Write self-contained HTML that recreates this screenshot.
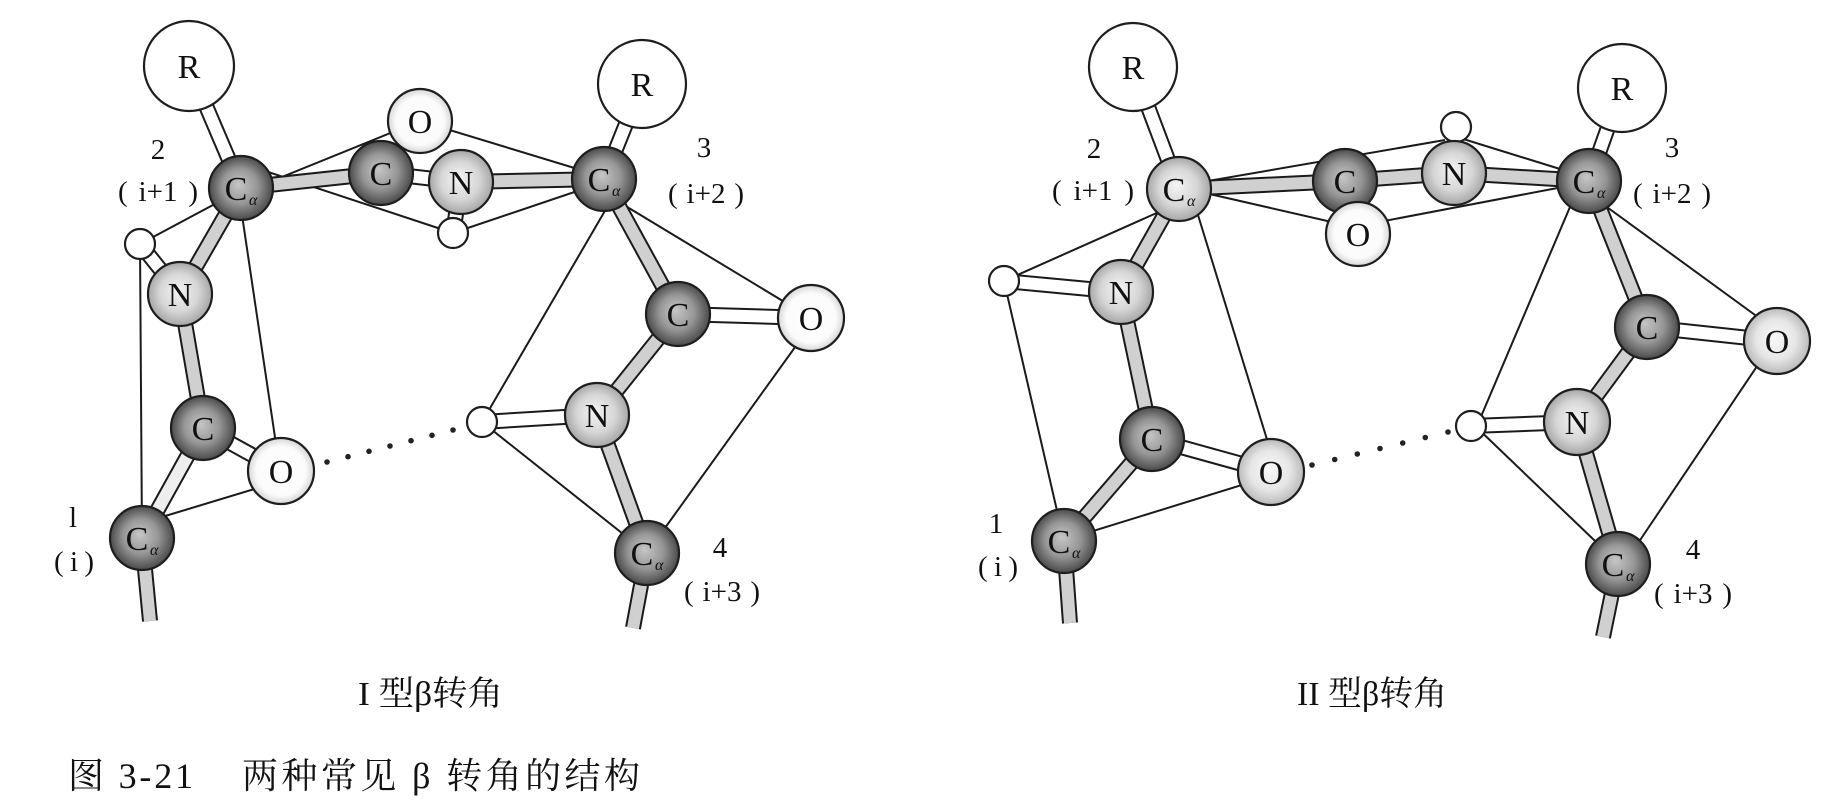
<!DOCTYPE html>
<html>
<head>
<meta charset="utf-8">
<style>
html,body{margin:0;padding:0;background:#fff;}
svg{display:block;}
.at{font-family:"Liberation Serif",serif;font-size:34px;fill:#111;text-anchor:middle;}
.sub{font-family:"Liberation Serif",serif;font-size:16px;fill:#111;font-style:italic;}
.lb{font-family:"Liberation Serif",serif;font-size:29px;fill:#111;text-anchor:middle;}
.ps{font-family:"Liberation Serif",serif;font-size:29px;fill:#111;text-anchor:start;}
.pe{font-family:"Liberation Serif",serif;font-size:29px;fill:#111;text-anchor:end;}
.cap{font-family:"Liberation Serif","Noto Serif CJK SC",serif;font-size:34px;fill:#111;}
.cap2{font-family:"Liberation Serif","Noto Serif CJK SC",serif;font-size:36px;fill:#111;}
</style>
</head>
<body>
<svg width="1845" height="801" viewBox="0 0 1845 801" xmlns="http://www.w3.org/2000/svg">
<defs>
<radialGradient id="gC" cx="50%" cy="50%" r="50%" fx="46%" fy="44%">
<stop offset="0" stop-color="#c6c6c6"/><stop offset="0.55" stop-color="#969696"/><stop offset="1" stop-color="#4a4a4a"/>
</radialGradient>
<radialGradient id="gN" cx="50%" cy="50%" r="50%" fx="46%" fy="44%">
<stop offset="0" stop-color="#f4f4f4"/><stop offset="0.6" stop-color="#d6d6d6"/><stop offset="1" stop-color="#a6a6a6"/>
</radialGradient>
<radialGradient id="gO" cx="50%" cy="50%" r="50%">
<stop offset="0" stop-color="#ffffff"/><stop offset="0.75" stop-color="#fbfbfb"/><stop offset="1" stop-color="#d6d6d6"/>
</radialGradient>
<radialGradient id="gO2" cx="50%" cy="50%" r="50%" fx="46%" fy="44%">
<stop offset="0" stop-color="#f8f8f8"/><stop offset="0.6" stop-color="#e6e6e6"/><stop offset="1" stop-color="#bababa"/>
</radialGradient>
</defs>
<rect width="1845" height="801" fill="#fff"/>

<!-- ================= PANEL 1 ================= -->
<g stroke="#1a1a1a" stroke-width="2" fill="none">
<line x1="245" y1="192" x2="420" y2="121"/>
<line x1="420" y1="121" x2="604" y2="177"/>
<line x1="250" y1="166" x2="453" y2="233"/>
<line x1="453" y1="233" x2="604" y2="182"/>
<line x1="241" y1="190" x2="140" y2="244"/>
<line x1="140" y1="244" x2="142" y2="538"/>
<line x1="238" y1="188" x2="280" y2="471"/>
<line x1="281" y1="481" x2="142" y2="523"/>
<line x1="620" y1="185" x2="482" y2="422"/>
<line x1="604" y1="193" x2="811" y2="318"/>
<line x1="816" y1="318" x2="647" y2="553"/>
<line x1="482" y1="422" x2="647" y2="553"/>
</g>
<g stroke="#1a1a1a" stroke-width="16" stroke-linecap="butt">
<line x1="189" y1="66" x2="241" y2="188"/>
<line x1="241" y1="188" x2="381" y2="173"/>
<line x1="381" y1="173" x2="461" y2="182"/>
<line x1="461" y1="182" x2="453" y2="233"/>
<line x1="461" y1="182" x2="604" y2="179"/>
<line x1="642" y1="84" x2="604" y2="179"/>
<line x1="241" y1="188" x2="180" y2="294"/>
<line x1="180" y1="294" x2="140" y2="244"/>
<line x1="180" y1="294" x2="203" y2="428"/>
<line x1="203" y1="428" x2="281" y2="471"/>
<line x1="203" y1="428" x2="142" y2="538"/>
<line x1="142" y1="538" x2="150" y2="621"/>
<line x1="604" y1="179" x2="678" y2="314"/>
<line x1="678" y1="314" x2="811" y2="318"/>
<line x1="678" y1="314" x2="597" y2="415"/>
<line x1="597" y1="415" x2="482" y2="422"/>
<line x1="597" y1="415" x2="647" y2="553"/>
<line x1="647" y1="553" x2="633" y2="628"/>
</g>
<g stroke-width="12" stroke-linecap="butt">
<line x1="189" y1="66" x2="241" y2="188" stroke="#fff"/>
<line x1="241" y1="188" x2="381" y2="173" stroke="#d0d0d0"/>
<line x1="381" y1="173" x2="461" y2="182" stroke="#fff"/>
<line x1="461" y1="182" x2="453" y2="233" stroke="#fff"/>
<line x1="461" y1="182" x2="604" y2="179" stroke="#d0d0d0"/>
<line x1="642" y1="84" x2="604" y2="179" stroke="#fff"/>
<line x1="241" y1="188" x2="180" y2="294" stroke="#d0d0d0"/>
<line x1="180" y1="294" x2="140" y2="244" stroke="#fff"/>
<line x1="180" y1="294" x2="203" y2="428" stroke="#d0d0d0"/>
<line x1="203" y1="428" x2="281" y2="471" stroke="#fff"/>
<line x1="203" y1="428" x2="142" y2="538" stroke="#eeeeee"/>
<line x1="142" y1="538" x2="150" y2="621" stroke="#d0d0d0"/>
<line x1="604" y1="179" x2="678" y2="314" stroke="#d0d0d0"/>
<line x1="678" y1="314" x2="811" y2="318" stroke="#fff"/>
<line x1="678" y1="314" x2="597" y2="415" stroke="#d0d0d0"/>
<line x1="597" y1="415" x2="482" y2="422" stroke="#fff"/>
<line x1="597" y1="415" x2="647" y2="553" stroke="#d0d0d0"/>
<line x1="647" y1="553" x2="633" y2="628" stroke="#d0d0d0"/>
</g>
<g fill="#222">
<circle cx="327" cy="462" r="2.8"/><circle cx="348" cy="456.7" r="2.8"/><circle cx="369" cy="451.3" r="2.8"/>
<circle cx="390" cy="446" r="2.8"/><circle cx="411" cy="440.7" r="2.8"/><circle cx="432" cy="435.3" r="2.8"/>
<circle cx="453" cy="430" r="2.8"/>
</g>
<g stroke="#1e1e1e" stroke-width="2.2">
<circle cx="189" cy="66" r="45" fill="#fff"/>
<circle cx="642" cy="84" r="44" fill="#fff"/>
<circle cx="420" cy="121" r="32" fill="url(#gO)"/>
<circle cx="381" cy="173" r="32" fill="url(#gC)"/>
<circle cx="461" cy="182" r="32" fill="url(#gN)"/>
<circle cx="453" cy="233" r="15" fill="#fff"/>
<circle cx="241" cy="188" r="32" fill="url(#gC)"/>
<circle cx="604" cy="179" r="32" fill="url(#gC)"/>
<circle cx="140" cy="244" r="15" fill="#fff"/>
<circle cx="180" cy="294" r="32" fill="url(#gN)"/>
<circle cx="203" cy="428" r="32" fill="url(#gC)"/>
<circle cx="281" cy="471" r="33" fill="url(#gO)"/>
<circle cx="142" cy="538" r="32" fill="url(#gC)"/>
<circle cx="678" cy="314" r="32" fill="url(#gC)"/>
<circle cx="811" cy="318" r="33" fill="url(#gO)"/>
<circle cx="597" cy="415" r="32" fill="url(#gN)"/>
<circle cx="482" cy="422" r="15" fill="#fff"/>
<circle cx="647" cy="553" r="32" fill="url(#gC)"/>
</g>
<g>
<text x="189" y="78" class="at">R</text>
<text x="642" y="96" class="at">R</text>
<text x="420" y="133" class="at">O</text>
<text x="381" y="185" class="at">C</text>
<text x="461" y="194" class="at">N</text>
<text x="236" y="200" class="at">C</text>
<text x="599" y="191" class="at">C</text>
<text x="180" y="306" class="at">N</text>
<text x="203" y="440" class="at">C</text>
<text x="281" y="483" class="at">O</text>
<text x="137" y="550" class="at">C</text>
<text x="678" y="326" class="at">C</text>
<text x="811" y="330" class="at">O</text>
<text x="597" y="427" class="at">N</text>
<text x="642" y="565" class="at">C</text>
</g>
<text x="249" y="205" class="sub">α</text>
<text x="612" y="196" class="sub">α</text>
<text x="150" y="555" class="sub">α</text>
<text x="655" y="570" class="sub">α</text>
<!-- labels panel 1 -->
<text x="158" y="159" class="lb">2</text>
<text x="118" y="201" class="ps">(</text><text x="158" y="201" class="lb">i+1</text><text x="198" y="201" class="pe">)</text>
<text x="704" y="157" class="lb">3</text>
<text x="668" y="203" class="ps">(</text><text x="706" y="203" class="lb">i+2</text><text x="744" y="203" class="pe">)</text>
<text x="73" y="527" class="lb">l</text>
<text x="54" y="571" class="ps">(</text><text x="74" y="571" class="lb">i</text><text x="94" y="571" class="pe">)</text>
<text x="720" y="557" class="lb">4</text>
<text x="684" y="601" class="ps">(</text><text x="722" y="601" class="lb">i+3</text><text x="760" y="601" class="pe">)</text>

<!-- ================= PANEL 2 ================= -->
<g stroke="#1a1a1a" stroke-width="2" fill="none">
<line x1="1179" y1="186" x2="1445" y2="140"/>
<line x1="1460" y1="138" x2="1589" y2="178"/>
<line x1="1179" y1="187" x2="1358" y2="228"/>
<line x1="1358" y1="226" x2="1589" y2="182"/>
<line x1="1179" y1="203" x2="1004" y2="281"/>
<line x1="1004" y1="281" x2="1064" y2="541"/>
<line x1="1190" y1="189" x2="1277" y2="472"/>
<line x1="1271" y1="476" x2="1064" y2="540"/>
<line x1="1581" y1="181" x2="1477" y2="426"/>
<line x1="1589" y1="194" x2="1777" y2="331"/>
<line x1="1774" y1="341" x2="1624" y2="564"/>
<line x1="1471" y1="422" x2="1618" y2="563"/>
</g>
<g stroke="#1a1a1a" stroke-width="16" stroke-linecap="butt">
<line x1="1133" y1="67" x2="1179" y2="189"/>
<line x1="1179" y1="189" x2="1345" y2="181"/>
<line x1="1345" y1="181" x2="1454" y2="173"/>
<line x1="1454" y1="173" x2="1589" y2="181"/>
<line x1="1622" y1="88" x2="1589" y2="181"/>
<line x1="1179" y1="189" x2="1121" y2="292"/>
<line x1="1121" y1="292" x2="1004" y2="281"/>
<line x1="1121" y1="292" x2="1152" y2="439"/>
<line x1="1152" y1="439" x2="1271" y2="472"/>
<line x1="1152" y1="439" x2="1064" y2="541"/>
<line x1="1064" y1="541" x2="1070" y2="623"/>
<line x1="1589" y1="181" x2="1647" y2="327"/>
<line x1="1647" y1="327" x2="1777" y2="341"/>
<line x1="1647" y1="327" x2="1577" y2="422"/>
<line x1="1577" y1="422" x2="1471" y2="426"/>
<line x1="1577" y1="422" x2="1618" y2="564"/>
<line x1="1618" y1="564" x2="1603" y2="637"/>
</g>
<g stroke-width="12" stroke-linecap="butt">
<line x1="1133" y1="67" x2="1179" y2="189" stroke="#fff"/>
<line x1="1179" y1="189" x2="1345" y2="181" stroke="#d0d0d0"/>
<line x1="1345" y1="181" x2="1454" y2="173" stroke="#d0d0d0"/>
<line x1="1454" y1="173" x2="1589" y2="181" stroke="#d0d0d0"/>
<line x1="1622" y1="88" x2="1589" y2="181" stroke="#fff"/>
<line x1="1179" y1="189" x2="1121" y2="292" stroke="#d0d0d0"/>
<line x1="1121" y1="292" x2="1004" y2="281" stroke="#fff"/>
<line x1="1121" y1="292" x2="1152" y2="439" stroke="#d0d0d0"/>
<line x1="1152" y1="439" x2="1271" y2="472" stroke="#fff"/>
<line x1="1152" y1="439" x2="1064" y2="541" stroke="#d0d0d0"/>
<line x1="1064" y1="541" x2="1070" y2="623" stroke="#d0d0d0"/>
<line x1="1589" y1="181" x2="1647" y2="327" stroke="#d0d0d0"/>
<line x1="1647" y1="327" x2="1777" y2="341" stroke="#fff"/>
<line x1="1647" y1="327" x2="1577" y2="422" stroke="#d0d0d0"/>
<line x1="1577" y1="422" x2="1471" y2="426" stroke="#fff"/>
<line x1="1577" y1="422" x2="1618" y2="564" stroke="#d0d0d0"/>
<line x1="1618" y1="564" x2="1603" y2="637" stroke="#d0d0d0"/>
</g>
<g fill="#222">
<circle cx="1312" cy="465" r="2.8"/><circle cx="1334.7" cy="459.5" r="2.8"/><circle cx="1357.3" cy="454" r="2.8"/>
<circle cx="1380" cy="448.5" r="2.8"/><circle cx="1402.7" cy="443" r="2.8"/><circle cx="1425.3" cy="437.5" r="2.8"/>
<circle cx="1448" cy="432" r="2.8"/>
</g>
<g stroke="#1e1e1e" stroke-width="2.2">
<circle cx="1133" cy="67" r="44" fill="#fff"/>
<circle cx="1622" cy="88" r="44" fill="#fff"/>
<circle cx="1456" cy="127" r="15" fill="#fff"/>
<circle cx="1345" cy="181" r="32" fill="url(#gC)"/>
<circle cx="1358" cy="234" r="32" fill="url(#gO)"/>
<circle cx="1454" cy="173" r="32" fill="url(#gN)"/>
<circle cx="1179" cy="189" r="32" fill="url(#gN)"/>
<circle cx="1589" cy="181" r="32" fill="url(#gC)"/>
<circle cx="1004" cy="281" r="15" fill="#fff"/>
<circle cx="1121" cy="292" r="32" fill="url(#gN)"/>
<circle cx="1152" cy="439" r="32" fill="url(#gC)"/>
<circle cx="1271" cy="472" r="33" fill="url(#gO2)"/>
<circle cx="1064" cy="541" r="32" fill="url(#gC)"/>
<circle cx="1647" cy="327" r="32" fill="url(#gC)"/>
<circle cx="1777" cy="341" r="33" fill="url(#gO2)"/>
<circle cx="1577" cy="422" r="33" fill="url(#gN)"/>
<circle cx="1471" cy="426" r="15" fill="#fff"/>
<circle cx="1618" cy="564" r="32" fill="url(#gC)"/>
</g>
<g>
<text x="1133" y="79" class="at">R</text>
<text x="1622" y="100" class="at">R</text>
<text x="1345" y="193" class="at">C</text>
<text x="1358" y="246" class="at">O</text>
<text x="1454" y="185" class="at">N</text>
<text x="1174" y="201" class="at">C</text>
<text x="1584" y="193" class="at">C</text>
<text x="1121" y="304" class="at">N</text>
<text x="1152" y="451" class="at">C</text>
<text x="1271" y="484" class="at">O</text>
<text x="1059" y="553" class="at">C</text>
<text x="1647" y="339" class="at">C</text>
<text x="1777" y="353" class="at">O</text>
<text x="1577" y="434" class="at">N</text>
<text x="1613" y="576" class="at">C</text>
</g>
<text x="1187" y="206" class="sub">α</text>
<text x="1597" y="198" class="sub">α</text>
<text x="1072" y="558" class="sub">α</text>
<text x="1626" y="581" class="sub">α</text>
<!-- labels panel 2 -->
<text x="1094" y="158" class="lb">2</text>
<text x="1052" y="200" class="ps">(</text><text x="1093" y="200" class="lb">i+1</text><text x="1134" y="200" class="pe">)</text>
<text x="1672" y="157" class="lb">3</text>
<text x="1633" y="203" class="ps">(</text><text x="1672" y="203" class="lb">i+2</text><text x="1711" y="203" class="pe">)</text>
<text x="996" y="533" class="lb">1</text>
<text x="978" y="576" class="ps">(</text><text x="998" y="576" class="lb">i</text><text x="1018" y="576" class="pe">)</text>
<text x="1693" y="559" class="lb">4</text>
<text x="1654" y="603" class="ps">(</text><text x="1693" y="603" class="lb">i+3</text><text x="1732" y="603" class="pe">)</text>

<!-- captions -->
<text x="358" y="705" class="cap" textLength="145" lengthAdjust="spacingAndGlyphs">I 型β转角</text>
<text x="1297" y="705" class="cap" textLength="150" lengthAdjust="spacingAndGlyphs">II 型β转角</text>
<text x="68" y="788" class="cap2" textLength="125" lengthAdjust="spacing">图 3-21</text>
<text x="242" y="788" class="cap2" textLength="398" lengthAdjust="spacing">两种常见 β 转角的结构</text>
</svg>
</body>
</html>
